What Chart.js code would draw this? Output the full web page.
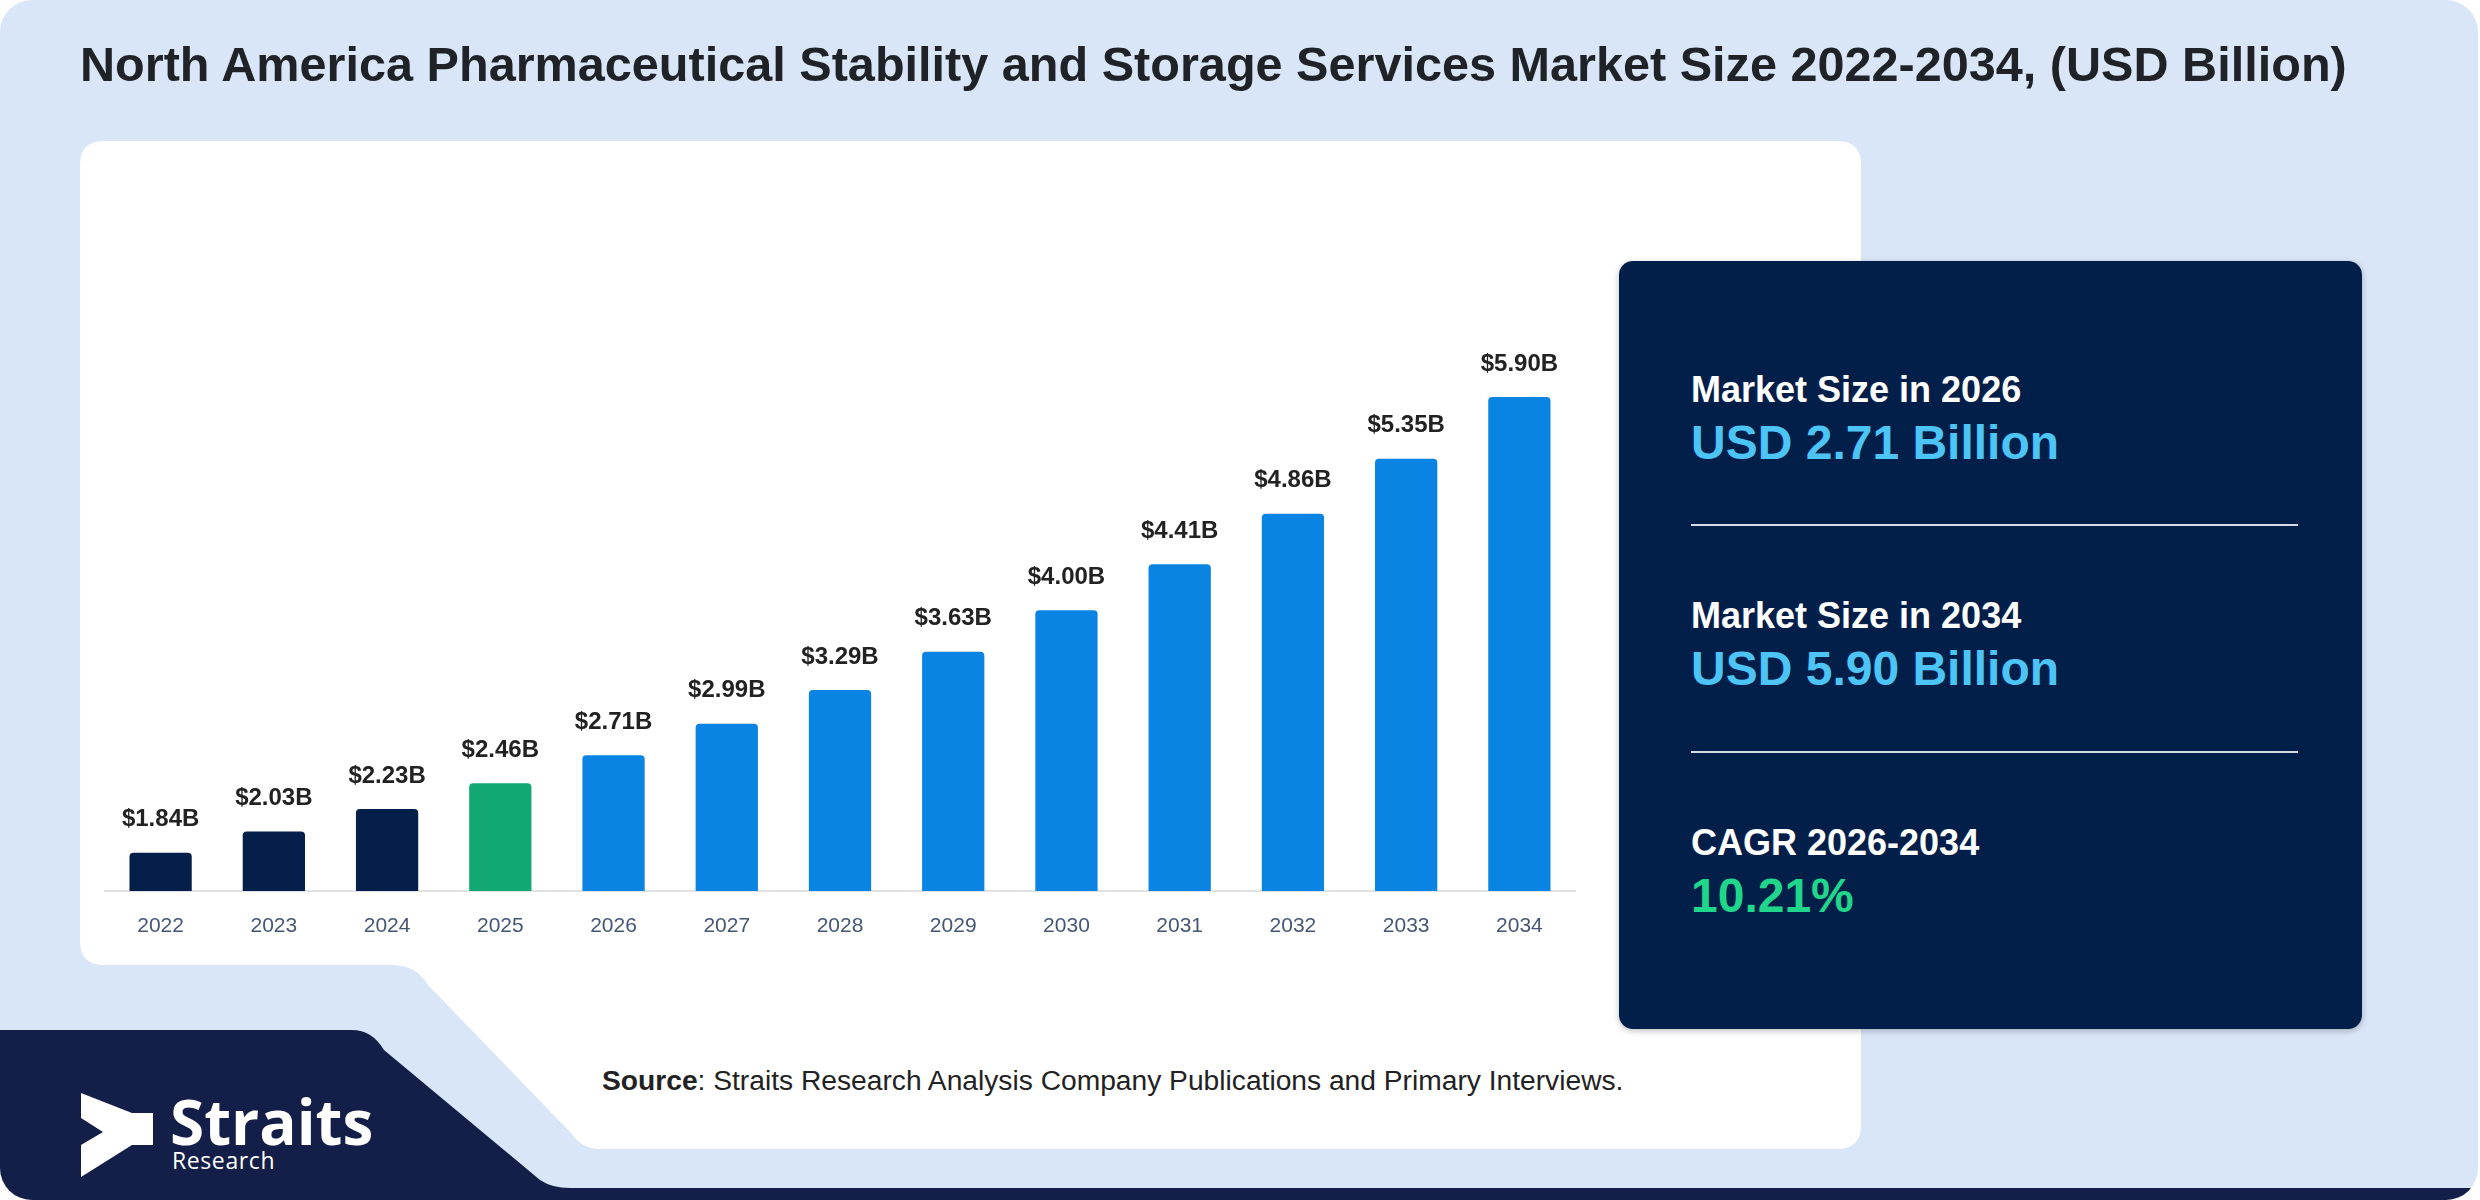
<!DOCTYPE html>
<html>
<head>
<meta charset="utf-8">
<script src="https://cdn.jsdelivr.net/npm/chart.js@4.4.1/dist/chart.umd.min.js"></script>
<style>
  html, body { margin: 0; padding: 0; background: #ffffff; }
  body { width: 2480px; height: 1200px; position: relative; overflow: hidden; font-family: "Liberation Sans", Arial, sans-serif; }
  .abs { position: absolute; white-space: nowrap; line-height: 1; }
  #bg { position: absolute; left: 0; top: 0; }
  #title { left: 80px; top: 40px; font-size: 48.6px; font-weight: bold; color: #1f2328; }
  #chartWrap { position: absolute; left: 104px; top: 251px; width: 1472px; height: 708px; }
  #panel { position: absolute; left: 1619px; top: 261px; width: 743px; height: 768px; background: #021f4a; border-radius: 14px; box-shadow: 0 2px 6px rgba(0,0,0,0.25); }
  .lbl { left: 1691px; font-size: 36px; font-weight: bold; color: #ffffff; }
  .val { left: 1691px; font-size: 48px; font-weight: bold; color: #4cc4f6; }
  .rule { position: absolute; left: 1691px; width: 607px; height: 2px; background: #d5dbe6; }
  #source { left: 602px; top: 1066px; font-size: 28.2px; color: #222; }
  #brand { left: 170px; top: 1090px; font-family: "Open Sans", sans-serif; font-size: 62px; font-weight: bold; color: #fff; }
  #brandSub { left: 172px; top: 1149px; font-family: "Open Sans", sans-serif; font-size: 23px; letter-spacing: 0.6px; color: #fff; }
</style>
</head>
<body>
<svg id="bg" width="2480" height="1200" viewBox="0 0 2480 1200">
  <defs>
    <clipPath id="card"><rect x="0" y="0" width="2478" height="1200" rx="32" ry="32"/></clipPath>
  </defs>
  <g clip-path="url(#card)">
    <rect x="0" y="0" width="2480" height="1200" fill="#d9e6f8"/>
    <!-- navy logo block and bottom band -->
    <path d="M0,1030 H352 Q372,1030 384,1050 L540,1180 Q552,1188 570,1188 H2480 V1200 H0 Z" fill="#131f48"/>
    <!-- white chart panel with cut-out corner -->
    <path d="M104,141 H1837 Q1861,141 1861,165 V1125 Q1861,1149 1837,1149 H600 Q582,1149 572,1134 L428,985 Q416,965 392,965 H104 Q80,965 80,941 V165 Q80,141 104,141 Z" fill="#ffffff"/>
    <!-- logo mark -->
    <polygon points="81,1093 132,1113 153,1113 153,1145 132,1145 81,1177 81,1145 103,1132 81,1118" fill="#ffffff"/>
  </g>
</svg>

<div id="title" class="abs">North America Pharmaceutical Stability and Storage Services Market Size 2022-2034, (USD Billion)</div>

<div id="chartWrap"><canvas id="chart1" width="1472" height="708"></canvas></div>

<div id="panel"></div>
<div class="abs lbl" style="top:372px">Market Size in 2026</div>
<div class="abs val" style="top:419px">USD 2.71 Billion</div>
<div class="rule" style="top:524px"></div>
<div class="abs lbl" style="top:598px">Market Size in 2034</div>
<div class="abs val" style="top:645px">USD 5.90 Billion</div>
<div class="rule" style="top:751px"></div>
<div class="abs lbl" style="top:825px">CAGR 2026-2034</div>
<div class="abs val" style="top:872px; color:#1fd68b">10.21%</div>

<div id="source" class="abs"><b>Source</b>: Straits Research Analysis Company Publications and Primary Interviews.</div>

<div id="brand" class="abs">Straits</div>
<div id="brandSub" class="abs">Research</div>

<script>
var years = ['2022', '2023', '2024', '2025', '2026', '2027', '2028', '2029', '2030', '2031', '2032', '2033', '2034'];
var marketSize = [1.84, 2.03, 2.23, 2.46, 2.71, 2.99, 3.29, 3.63, 4.00, 4.41, 4.86, 5.35, 5.90];
var baseYear = 2025;

function barColor(year) {
    var y = parseInt(year, 10);
    if (y < baseYear) return '#041f4a';
    if (y === baseYear) return '#12a874';
    return '#0a84e2';
}

// value labels above each bar
var valueLabels = {
    id: 'valueLabels',
    afterDatasetsDraw: function (chart) {
        var ctx = chart.ctx;
        var meta = chart.getDatasetMeta(0);
        ctx.save();
        ctx.font = 'bold 24px "Liberation Sans", Arial, sans-serif';
        ctx.fillStyle = '#222222';
        ctx.textAlign = 'center';
        ctx.textBaseline = 'middle';
        meta.data.forEach(function (bar, i) {
            ctx.fillText('$' + marketSize[i].toFixed(2) + 'B', bar.x, bar.y - 33);
        });
        ctx.restore();
    }
};

var ctx1 = document.getElementById('chart1').getContext('2d');
var chart1 = new Chart(ctx1, {
    type: 'bar',
    data: {
        labels: years,
        datasets: [{
            label: 'Market Size',
            data: marketSize,
            backgroundColor: years.map(barColor),
            borderRadius: 4,
            barPercentage: 0.55,
            categoryPercentage: 1.0
        }]
    },
    options: {
        responsive: false,
        devicePixelRatio: 1,
        animation: false,
        layout: { padding: 0 },
        plugins: {
            legend: { display: false },
            tooltip: { enabled: false }
        },
        scales: {
            x: {
                grid: { display: false, drawTicks: false },
                border: { display: true, color: '#e2e2e2', width: 2 },
                ticks: {
                    color: '#465675',
                    font: { family: '"Liberation Sans", Arial, sans-serif', size: 21 },
                    padding: 23,
                    maxRotation: 0
                },
                afterFit: function (scale) { scale.height = 68; }
            },
            y: {
                display: false,
                min: 1.5,
                max: 7.2
            }
        }
    },
    plugins: [valueLabels]
});
</script>
</body>
</html>
